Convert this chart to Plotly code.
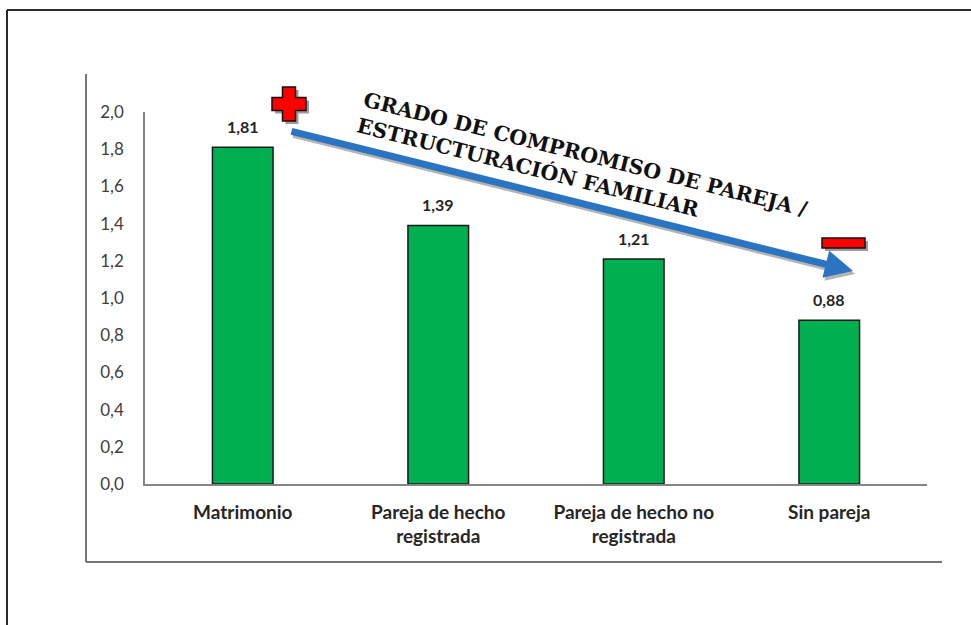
import plotly.graph_objects as go

# ---- data ----
categories = ["Matrimonio", "Pareja de hecho<br>registrada", "Pareja de hecho no<br>registrada", "Sin pareja"]
values = [1.81, 1.39, 1.21, 0.88]
value_labels = ["1,81", "1,39", "1,21", "0,88"]
y_ticks = [0.0, 0.2, 0.4, 0.6, 0.8, 1.0, 1.2, 1.4, 1.6, 1.8, 2.0]
arrow_text = "GRADO DE COMPROMISO DE PAREJA /<br>ESTRUCTURACIÓN FAMILIAR"

W, H = 971, 625
L, R, T, B = 145, 927, 112, 484


def px(x):
    return (x - L) / (R - L)


def py(y):
    return (B - y) / (B - T)


fig = go.Figure()
fig.add_trace(go.Bar(
    x=categories, y=values,
    marker=dict(color="#00B050", line=dict(color="#1a1a1a", width=1.5)),
    width=0.31,
    hoverinfo="skip",
))

annotations = []
for c, v, t in zip(categories, values, value_labels):
    annotations.append(dict(x=c, y=v, xref="x", yref="y", text=t, showarrow=False,
                            yanchor="bottom", yshift=9,
                            font=dict(family="Lato", size=16, color="#262626", weight="bold")))

# arrow shadow + arrow
hx, hy = 853, 271
tx, ty = 290, 131
annotations.append(dict(x=px(hx + 2), y=py(hy + 3), xref="paper", yref="paper",
                        ax=(tx - hx), ay=(ty - hy), axref="pixel", ayref="pixel",
                        showarrow=True, arrowhead=2, arrowsize=0.8, arrowwidth=7,
                        arrowcolor="rgba(120,120,120,0.55)", text=""))
annotations.append(dict(x=px(hx), y=py(hy), xref="paper", yref="paper",
                        ax=(tx - hx), ay=(ty - hy), axref="pixel", ayref="pixel",
                        showarrow=True, arrowhead=2, arrowsize=0.8, arrowwidth=7,
                        arrowcolor="#2B74C2", text=""))

annotations.append(dict(x=px(582), y=py(167), xref="paper", yref="paper",
                        text="<b>" + arrow_text + "</b>", showarrow=False,
                        textangle=14, align="left", xanchor="center", yanchor="middle",
                        font=dict(family="DejaVu Serif", size=20.5, color="#111111")))

shapes = []
# outer frame
shapes.append(dict(type="line", xref="paper", yref="paper", x0=px(7), y0=py(10), x1=px(980), y1=py(10),
                   line=dict(color="#2a2a2a", width=2)))
shapes.append(dict(type="line", xref="paper", yref="paper", x0=px(7), y0=py(10), x1=px(7), y1=py(640),
                   line=dict(color="#2a2a2a", width=2)))
# inner L frame
shapes.append(dict(type="line", xref="paper", yref="paper", x0=px(86), y0=py(74), x1=px(86), y1=py(562),
                   line=dict(color="#4a4a4a", width=1.5)))
shapes.append(dict(type="line", xref="paper", yref="paper", x0=px(86), y0=py(562), x1=px(942), y1=py(562),
                   line=dict(color="#4a4a4a", width=1.5)))


def plus_path(cx, cy, a, b):
    pts = [(cx - b, cy - a), (cx + b, cy - a), (cx + b, cy - b), (cx + a, cy - b), (cx + a, cy + b),
           (cx + b, cy + b), (cx + b, cy + a), (cx - b, cy + a), (cx - b, cy + b), (cx - a, cy + b),
           (cx - a, cy - b), (cx - b, cy - b)]
    return "M " + " L ".join(f"{px(x):.5f},{py(y):.5f}" for x, y in pts) + " Z"


def rect(x0, y0, x1, y1, fill, line_color, lw):
    return dict(type="rect", xref="paper", yref="paper", x0=px(x0), y0=py(y1), x1=px(x1), y1=py(y0),
                fillcolor=fill, line=dict(color=line_color, width=lw))


# plus sign (shadow + red)
shapes.append(dict(type="path", xref="paper", yref="paper", path=plus_path(292, 107, 17, 6.5),
                   fillcolor="rgba(90,90,90,0.6)", line=dict(width=0)))
shapes.append(dict(type="path", xref="paper", yref="paper", path=plus_path(289, 104, 17, 6.5),
                   fillcolor="#FF0000", line=dict(color="#111111", width=1.5)))
# minus sign (shadow + red)
shapes.append(rect(825, 241, 868, 251, "rgba(90,90,90,0.6)", "rgba(0,0,0,0)", 0))
shapes.append(rect(822, 238, 865, 248, "#FF0000", "#111111", 1.5))

fig.update_layout(
    width=W, height=H, autosize=False,
    margin=dict(l=L, r=W - R, t=T, b=H - B, pad=0),
    paper_bgcolor="white", plot_bgcolor="white",
    separators=",.",
    bargap=0.69,
    showlegend=False,
    annotations=annotations,
    shapes=shapes,
    font=dict(family="Lato"),
)
fig.update_xaxes(
    showline=True, linecolor="#868686", linewidth=1.5, showgrid=False, ticks="",
    tickfont=dict(family="Lato", size=19, color="#262626", weight="bold"),
    ticklabelstandoff=10, fixedrange=True,
)
fig.update_yaxes(
    range=[0, 2], tickvals=y_ticks, tickformat=".1f",
    showline=True, linecolor="#868686", linewidth=1.5, showgrid=False, zeroline=False, ticks="",
    tickfont=dict(family="Lato", size=17, color="#404040"),
    ticklabelstandoff=16, fixedrange=True,
)

fig.write_html("out.html", config={"displayModeBar": False},
               post_script="document.body.style.margin='0';document.body.style.overflow='hidden';")
